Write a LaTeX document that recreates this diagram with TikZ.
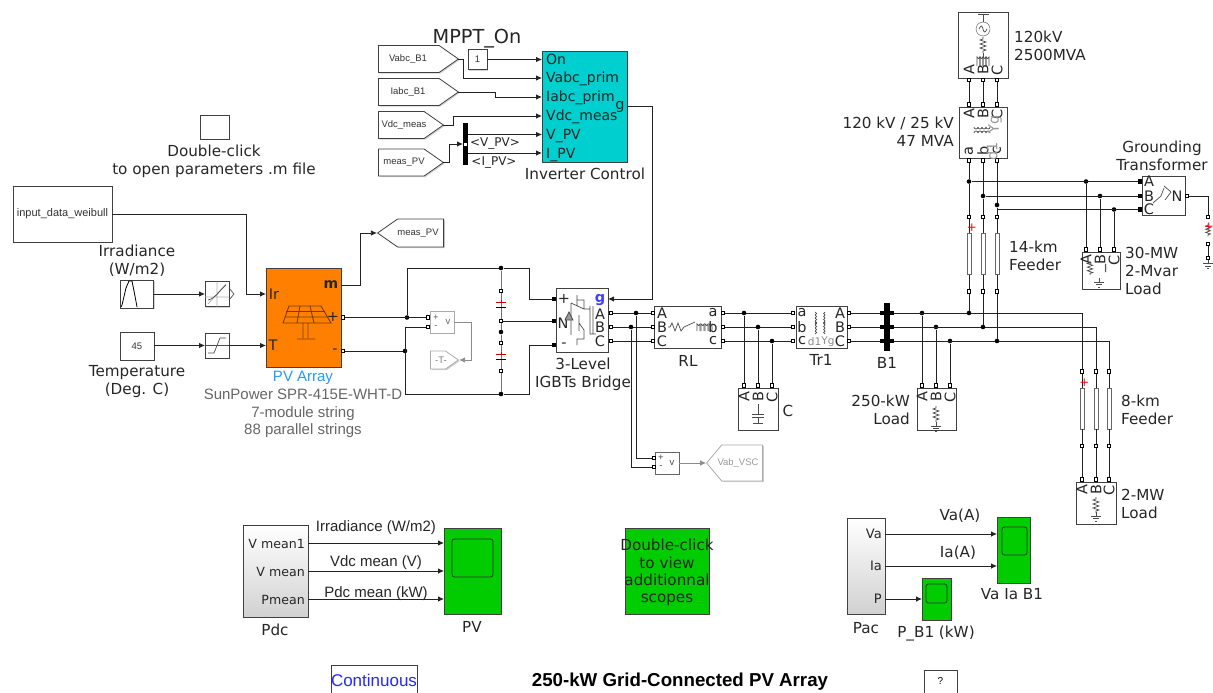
\documentclass[tikz,border=0pt]{standalone}
\usepackage{fontspec}
\setmainfont{DejaVu Sans}
\newfontfamily\arialfont{Liberation Sans}
\usetikzlibrary{positioning, arrows.meta, shadows, shapes.symbols}

\definecolor{scopegreen}{HTML}{00CC00}
\definecolor{ctrlteal}{HTML}{00CFCF}
\definecolor{pvorange}{HTML}{FF8000}
\definecolor{pvbrown}{HTML}{7A3C00}
\definecolor{pvblue}{HTML}{2299FF}
\definecolor{wirecol}{HTML}{222222}
\definecolor{paletxt}{HTML}{AAAAAA}

\tikzset{
  blk/.style={draw=black!75,fill=white,line width=0.8pt,inner sep=0,drop shadow={shadow xshift=1.2pt,shadow yshift=-1.2pt,opacity=0.35}},
  paleblk/.style={blk,draw=paletxt},
  gradblk/.style={blk,top color=white,bottom color=black!18},
  scopeblk/.style={blk,fill=scopegreen},
  screen/.style={draw=black!80,fill=scopegreen,rounded corners=2.5pt,line width=0.8pt,inner sep=0},
  portbox/.style={draw=black,fill=white,line width=0.9pt,inner sep=0,minimum size=3.6pt},
  dot/.style={circle,fill=black,inner sep=0,minimum size=4.6pt},
  wire/.style={draw=wirecol,line width=0.8pt},
  sig/.style={wire,-{Latex[length=6pt,width=5.5pt]}},
  palesig/.style={draw=black!45,line width=0.8pt,-{Latex[length=6pt,width=5.5pt]}},
  lbl/.style={font=\fontsize{15.2}{18}\selectfont,align=center,inner sep=0,text=black!85},
  lbll/.style={lbl,align=left,anchor=west},
  lblr/.style={lbl,align=right,anchor=east},
  plbl/.style={font=\fontsize{14.5}{16}\selectfont,inner sep=0,text=black!85},
  rlbl/.style={plbl,rotate=90},
  arial/.style={font=\arialfont\fontsize{15}{17.6}\selectfont,align=center,inner sep=0,text=black!60},
  tinylbl/.style={font=\arialfont\fontsize{9.5}{11}\selectfont,inner sep=0,text=black!80},
  goto/.style={signal,signal to=east,blk,signal pointer angle=#1},
  symb/.style={draw=black!70,line width=0.7pt},
  zigv/.pic={\draw[symb] (0,-8) -- (0,-6) -- (-3,-5) -- (3,-3) -- (-3,-1) -- (3,1) -- (-3,3) -- (3,5) -- (0,6) -- (0,8);},
  coilv/.pic={\foreach \c in {-4.5,-1.5,1.5,4.5} \draw[symb] (0,\c-1.5) arc (-90:90:1.5 and 1.5);},
  gnd/.pic={\draw[symb] (0,0) -- (0,4) (-5,4) -- (5,4) (-3,6.5) -- (3,6.5) (-1.2,9) -- (1.2,9);}
}

\begin{document}
\begin{tikzpicture}[x=1pt,y=-1pt]
\useasboundingbox (0,0) rectangle (1213,693);
\clip (0,0) rectangle (1213,693);

% parameters and solar inputs
\node[blk,minimum width=29pt,minimum height=24pt] (params) at (214.5,127) {};
\node[lbl] (paramstxt) at (214,161) {Double-click\\to open parameters .m file};
\node[blk,minimum width=99pt,minimum height=56pt] (weibull) at (62.5,214) {};
\node[tinylbl,font=\arialfont\fontsize{11}{12}\selectfont] (weibulltxt) at (weibull) {input\_data\_weibull};
\node[lbl] (irrtxt) at (137,261) {Irradiance\\(W/m2)};
\node[blk,minimum width=33pt,minimum height=28pt] (irrsig) at (137,294) {};
\draw[line width=0.8pt] (121,307) -- (122,305) -- (126,288) -- (129,281) -- (132,281) -- (135,296) -- (137,307);
\node[blk,minimum width=24pt,minimum height=25pt] (irrlut) at (217,294) {};
\draw[draw=black!30,line width=0.8pt] (217,281.5) -- (217,306.5) (205,297) -- (229,297) (208,304) -- (226,284);
\draw[symb] (208,300) .. controls (216,298) and (218,292) .. (226,285);
\draw[symb] (229,288) -- (234,294) -- (229,300);
\coordinate (irrlutR) at (205,294);
\node[blk,minimum width=34pt,minimum height=28pt] (temp) at (137,346) {};
\node[tinylbl] (temptxt) at (temp) {45};
\node[blk,minimum width=24pt,minimum height=25pt] (sat) at (217,345.5) {};
\draw[symb] (208,353) -- (214,353) -- (220,338) -- (226,338);
\draw[symb] (205,345.5) -- (229,345.5);
\node[lbl] (temptxt2) at (137,381.5) {Temperature\\(Deg. C)};
\coordinate (irrout) at (154,294);
\coordinate (tempout) at (154,345.5);
\coordinate (satin) at (205,345.5);
\coordinate (satout) at (229,345.5);
\coordinate (weibout) at (112,214);

% PV array
\node[blk,fill=pvorange,minimum width=75pt,minimum height=99pt] (pv) at (303.5,317.5) {};
\coordinate (pvIr) at (266,294);
\coordinate (pvT) at (266,345.5);
\coordinate (pvm) at (341,285);
\coordinate (wbend) at (246,214);
\coordinate (mbend) at (360,233);
\node[plbl] (pvIrtxt) at (274,294) {Ir};
\node[plbl] (pvTtxt) at (273,345) {T};
\node[plbl,font=\fontsize{14}{16}\bfseries\selectfont] (pvmtxt) at (331,285) {m};
\node[plbl] (pvptxt) at (333,317) {+};
\node[plbl] (pvmintxt) at (335,351) {-};
\draw[draw=pvbrown,line width=0.9pt] (289,306) -- (321,306) -- (331,323) -- (283,323) -- cycle (286,311.5) -- (325,311.5) (284.5,317) -- (328,317) (300,306) -- (297,323) (310,306) -- (314,323)
  (303,323) -- (303,338) (308,323) -- (308,338) (297,339) -- (315,339);
\node[portbox] (pvplus) at (343,317.5) {};
\node[portbox] (pvminus) at (343,351) {};
\node[font=\arialfont\fontsize{15}{16}\selectfont,inner sep=0,text=pvblue] (pvname) at (303,378) {PV Array};
\node[arial] (pvtype) at (303,413.5) {SunPower SPR-415E-WHT-D\\7-module string\\88 parallel strings};
\node[goto=70,signal to=west,minimum width=66pt,minimum height=28pt,anchor=east] (gmeas) at (444,233) {};
\node[tinylbl] (gmeastxt) at (418,233) {meas\_PV};

% control side
\node[lbl,font=\fontsize{19.3}{20}\selectfont] (mppttxt) at (477,38.5) {MPPT\_On};
\node[blk,fill=ctrlteal,minimum width=85pt,minimum height=111pt] (ctrl) at (584.5,106.5) {};
\foreach \n/\t/\y in {a/On/59.5,b/Vabc\_prim/78,c/Iabc\_prim/97,d/Vdc\_meas/116,e/V\_PV/134.5,f/I\_PV/153}
{
  \node[plbl,anchor=west,font=\fontsize{14}{16}\selectfont,text height=13pt,text depth=3pt] (ctrltxt\n) at (546,\y) {\t};
  \coordinate (ctrl\n) at (542,\y);
}
\node[plbl] (ctrlg) at (620,107) {g};
\coordinate (ctrlgout) at (627,106);
\node[lbl] (ctrlname) at (585,174) {Inverter Control};
\foreach \n/\t/\w/\y in {gvabc/Vabc\_B1/80/59,giabc/Iabc\_B1/80/92,gvdc/Vdc\_meas/65/125,gpv/meas\_PV/65/162.5}
{
  \node[goto=70,minimum width=\w pt,minimum height=27pt,anchor=west] (\n) at (378,\y) {};
}
\coordinate (vabctip) at (458,59);
\coordinate (iabctip) at (458,92);
\coordinate (vdctip) at (443,125);
\coordinate (pvtip) at (443,162.5);
\node[tinylbl] (gvabctxt) at (408,59) {Vabc\_B1};
\node[tinylbl] (giabctxt) at (408,92) {Iabc\_B1};
\node[tinylbl] (gvdctxt) at (404,125) {Vdc\_meas};
\node[tinylbl] (gpvtxt) at (404,162.5) {meas\_PV};
\node[blk,minimum width=19pt,minimum height=20pt] (mppt) at (477.5,59.5) {};
\node[tinylbl] (mppttxt2) at (mppt) {1};
\node[fill=black,inner sep=0,minimum width=5.5pt,minimum height=42pt] (bus) at (465.5,144) {};
\node[fill=white,inner sep=0,minimum width=3pt,minimum height=3pt] (buspt) at (465.5,144) {};
\coordinate (busin) at (463,144);
\coordinate (busv) at (468,134.5);
\coordinate (busi) at (468,153);
\node[plbl,font=\fontsize{12}{13}\selectfont] (vpvtxt) at (495,144) {<V\_PV>};
\node[plbl,font=\fontsize{12}{13}\selectfont] (ipvtxt) at (494,162.5) {<I\_PV>};
\draw[sig] (mppt) -- (ctrla);
\draw[sig] (vabctip) -- (463,59) -- (463,78) -- (ctrlb);
\draw[sig] (iabctip) -- (495,92) -- (495,97) -- (ctrlc);
\draw[sig] (vdctip) -- (453,125) -- (453,116) -- (ctrld);
\draw[sig] (pvtip) -- (449,162.5) -- (449,144) -- (busin);
\draw[sig] (busv) -- (ctrle);
\draw[sig] (busi) -- (ctrlf);

% solar wiring
\draw[sig] (weibout) -- (wbend) -- (246,294) -- (pvIr);
\draw[sig] (irrout) -- (irrlutR);
\draw[sig] (tempout) -- (satin);
\draw[sig] (satout) -- (pvT);
\draw[sig] (pvm) -- (360,285) -- (mbend) -- (gmeas.west);

% dc link
\node[paleblk,minimum width=24pt,minimum height=22pt] (vdc) at (442,322) {};
\node[portbox] (vdcp) at (428,317.5) {};
\node[portbox] (vdcm) at (428,327) {};
\node[tinylbl,text=black!60] (vdcptxt) at (436,317.5) {+};
\node[tinylbl,text=black!60] (vdcmtxt) at (436,327) {-};
\node[tinylbl,text=black!60] (vdcvtxt) at (448,322) {v};
\node[goto=70,draw=paletxt,minimum width=28pt,minimum height=18pt,anchor=west] (gtT) at (430,360) {};
\node[tinylbl,text=black!50] (gttxt) at (441,360) {-T-};
\node[dot] (dcp) at (407,317.5) {};
\node[dot] (dcm) at (405,351) {};
\node[dot] (captop) at (501,268) {};
\node[dot] (capmid) at (501,332) {};
\node[dot] (capbot) at (501,394) {};
\coordinate (brplusB) at (529,268);
\coordinate (brminusB) at (529,394);
\coordinate (dctop) at (407,268);
\coordinate (dcbot) at (405,394);
\coordinate (dcvm) at (405,327);
\coordinate (vdcout) at (454,322);
\node[blk,minimum width=52pt,minimum height=64pt] (brg) at (582,320) {};
\foreach \n/\y in {p/299,n/321,m/345} \node[portbox,fill=black] (brg\n) at (554,\y) {};
\node[portbox] (cap1) at (501,291) {};
\node[portbox] (cap2) at (501,321) {};
\node[portbox] (cap3) at (501,343) {};
\node[portbox] (cap4) at (501,371) {};
\draw[draw=black!55,line width=0.9pt] (captop) -- (cap1) -- (cap2) -- (capmid) -- (cap3) -- (cap4) -- (capbot);
\draw[draw=red!80!black,line width=0.9pt] (496,302) -- (506,302) (501,299.5) -- (501,302) (496,354) -- (506,354) (501,351.5) -- (501,354);
\draw[line width=0.9pt] (496,307) -- (506,307) (496,359) -- (506,359);
\draw[wire] (pvplus) -- (vdcp);
\draw[wire] (dcp) -- (dctop) -- (captop) -- (brplusB) -- (529,299) -- (brgp);
\draw[wire] (pvminus) -- (dcm);
\draw[wire] (vdcm) -- (dcvm) -- (dcbot) -- (capbot) -- (brminusB) -- (529,345) -- (brgm);
\draw[wire] (cap2) -- (brgn);
\draw[palesig] (vdcout) -- (471,322) -- (471,360) -- (gtT.east);

% bridge symbol
\node[plbl] (brgptxt) at (564,299) {+};
\node[plbl] (brgntxt) at (563,323) {N};
\node[plbl] (brgmtxt) at (564,345) {-};
\node[plbl,font=\fontsize{14.5}{16}\bfseries\selectfont,text=blue!75] (brggtxt) at (600,300) {g};
\foreach \p/\y in {A/314,B/327.5,C/341} \node[plbl] (brgtxt\p) at (600,\y) {\p};
\draw[symb] (577,295) -- (577,306) (577,300) -- (584,300) -- (584,309) (571,303) -- (584,309) (584,309) -- (590,309)
  (571,303) -- (571,335) (579,315) -- (579,331) (584,330) -- (584,339) -- (577,339) -- (577,345) (579,323) -- (584,330) (590,306) -- (590,334) -- (596,334) (593,306) -- (593,334);
\draw[symb,fill=black!40] (565,320) -- (573,320) -- (569,312) -- cycle;
\node[lbl] (brgname) at (583,374) {3-Level\\IGBTs Bridge};
\coordinate (brgg) at (608,299);
\coordinate (gbend) at (652,106);
\draw[sig] (ctrlgout) -- (gbend) -- (652,299) -- (brgg);

% ac chain
\node[blk,minimum width=67pt,minimum height=42pt] (rl) at (687.5,327) {};
\node[blk,minimum width=51pt,minimum height=42pt] (tr1) at (821.5,327) {};
\node[fill=black,inner sep=0,minimum width=6pt,minimum height=48pt] (b1) at (887,327) {};
\foreach \p/\q/\y in {A/a/313,B/b/327,C/c/341}
{
  \node[portbox] (brg\p) at (611,\y) {};
  \node[portbox] (rlin\p) at (653,\y) {};
  \node[portbox] (rlout\p) at (723,\y) {};
  \node[portbox] (trin\p) at (793,\y) {};
  \node[portbox] (trout\p) at (849,\y) {};
  \node[portbox,fill=black] (bl\p) at (882,\y) {};
  \node[portbox,fill=black] (br\p) at (892,\y) {};
  \node[plbl] (rlt\p) at (662,\y) {\p};
  \node[plbl] (rlq\p) at (713,\y) {\q};
  \node[plbl] (trt\p) at (802,\y) {\q};
  \node[plbl] (trq\p) at (840,\y) {\p};
  \draw[wire] (brg\p) -- (rlin\p);
  \draw[wire] (rlout\p) -- (trin\p);
  \draw[wire] (trout\p) -- (bl\p);
}
\draw[symb] (668,327) -- (670,327) -- (672,323) -- (675,331) -- (678,323) -- (681,331) -- (684,327) -- (695,322);
\foreach \c in {697,701,705,709} \draw[symb] (\c,331) -- (\c,324) arc (180:0:1.5) -- ++(0,7);
\pic at (815,328) {coilv};
\pic at (815,318) {coilv};
\pic[xscale=-1] at (825,328) {coilv};
\pic[xscale=-1] at (825,318) {coilv};
\node[plbl,font=\fontsize{10.5}{12}\selectfont,text=black!45] (trd) at (814.5,342) {d1};
\node[plbl,font=\fontsize{10.5}{12}\selectfont,text=black!45] (trYg) at (828,342) {Yg};
\node[lbl] (rlname) at (688,361) {RL};
\node[lbl] (trname) at (821,360) {Tr1};
\node[lbl] (b1name) at (887,363) {B1};
\node[dot] (jvA) at (636,313) {};
\node[dot] (jvB) at (631,327) {};
\node[paleblk,draw=black!60,minimum width=24pt,minimum height=22pt] (vab) at (667,463) {};
\node[portbox] (vabp) at (654,458) {};
\node[portbox] (vabm) at (654,467) {};
\node[tinylbl,text=black!70] (vabptxt) at (661,458) {+};
\node[tinylbl,text=black!70] (vabmtxt) at (661,467) {-};
\node[tinylbl,text=black!70] (vabvtxt) at (672,463) {v};
\coordinate (vabB) at (636,458);
\coordinate (vabC) at (631,467);
\draw[wire] (jvA) -- (vabB) -- (vabp);
\draw[wire] (jvB) -- (vabC) -- (vabm);
\node[goto=100,draw=paletxt,signal to=west,minimum width=56pt,minimum height=36pt,anchor=east] (gvab) at (763,463) {};
\node[tinylbl,text=black!40] (gvabtxt) at (738,463) {Vab\_VSC};
\coordinate (vabout) at (679,463);
\draw[palesig] (vabout) -- (gvab.west);

% shunt blocks under the bus
\node[blk,minimum width=40pt,minimum height=42pt] (cblk) at (758,409) {};
\node[blk,minimum width=39pt,minimum height=42pt] (l250) at (936.5,409) {};
\foreach \p/\y/\xc/\xl in {A/313/744/922,B/327/758/936,C/341/772/950}
{
  \node[dot] (jc\p) at (\xc,\y) {};
  \node[portbox] (cp\p) at (\xc,385.5) {};
  \node[rlbl] (ct\p) at (\xc,397) {\p};
  \draw[wire] (jc\p) -- (cp\p);
  \node[dot] (jl\p) at (\xl,\y) {};
  \node[portbox] (lp\p) at (\xl,385.5) {};
  \node[rlbl] (lt\p) at (\xl,397) {\p};
  \draw[wire] (jl\p) -- (lp\p);
}
\draw[symb] (758,404) -- (758,414) (752,414) -- (764,414) (752,417) -- (764,417) (758,417) -- (758,423) (753,423) -- (763,423);
\node[lbl] (cname) at (788,411) {C};
\pic at (936,414) {zigv};
\pic at (936,422) {gnd};
\node[lblr] (l250name) at (910,410) {250-kW\\Load};

% 8-km feeder
\node[blk,minimum width=40pt,minimum height=42pt] (l2) at (1096,503) {};
\foreach \p/\x/\y in {A/1082/313,B/1096/327,C/1109/341}
{
  \node[portbox] (f8a\p) at (\x,371.5) {};
  \node[portbox] (f8b\p) at (\x,446) {};
  \node[portbox] (l2p\p) at (\x,479.5) {};
  \node[draw=black!60,fill=white,inner sep=0,minimum width=3.6pt,minimum height=41pt] (f8\p) at (\x,408.5) {};
  \node[rlbl] (l2t\p) at (\x,490) {\p};
  \coordinate (f8c\p) at (\x,\y);
  \draw[wire] (br\p) -- (f8c\p) -- (f8a\p);
  \draw[wire] (f8a\p) -- (f8\p) -- (f8b\p) -- (l2p\p);
}
\pic at (1096,505) {zigv};
\pic at (1096,512) {gnd};
\node[text=red,inner sep=0,font=\fontsize{12}{12}\selectfont] (f8plus) at (1084.5,383) {+};
\node[lbll] (f8name) at (1121,410) {8-km\\Feeder};
\node[lbll] (l2name) at (1121,504) {2-MW\\Load};

% grid side
\node[blk,minimum width=50pt,minimum height=66pt] (src) at (983,45) {};
\node[blk,minimum width=48pt,minimum height=51pt] (xf) at (983,132.5) {};
\foreach \p/\q/\x/\yj in {A/a/969/181.5,B/b/983/196,C/c/997/205}
{
  \node[portbox] (srcp\p) at (\x,80) {};
  \node[portbox] (xfu\p) at (\x,104.5) {};
  \node[portbox] (xfl\p) at (\x,160.5) {};
  \node[portbox] (f14a\p) at (\x,217) {};
  \node[portbox] (f14b\p) at (\x,291.5) {};
  \node[draw=black!60,fill=white,inner sep=0,minimum width=3.6pt,minimum height=41pt] (f14\p) at (\x,254) {};
  \node[rlbl] (srct\p) at (\x,70) {\p};
  \node[rlbl] (xft\p) at (\x,114) {\p};
  \node[rlbl] (xfq\p) at (\x,151) {\q};
  \node[dot] (jg\p) at (\x,\yj) {};
  \draw[wire] (srcp\p) -- (xfu\p);
  \draw[wire] (xfl\p) -- (jg\p) -- (f14a\p);
  \draw[wire] (f14a\p) -- (f14\p) -- (f14b\p);
}
\foreach \p/\x/\y in {A/969/313,B/983/327,C/997/341}
{
  \node[dot] (jf\p) at (\x,\y) {};
  \draw[wire] (f14b\p) -- (jf\p);
}
\node[text=red,inner sep=0,font=\fontsize{12}{12}\selectfont] (f14plus) at (972,228) {+};
\draw[symb] (983,14) -- (983,22) (978,14.5) -- (989,14.5);
\node[draw=black!70,circle,inner sep=0,minimum size=14pt] (srccirc) at (983,29) {};
\draw[symb] (979,29) .. controls (981,25) and (982,25) .. (983,29) .. controls (984,33) and (985,33) .. (987,29);
\pic at (983,45) {zigv};
\foreach \c in {977,980,983,986} \draw[symb] (\c,66) -- (\c,57) arc (180:0:1.5) -- ++(0,9);
\draw[symb] (983,53) -- (983,57);
\foreach \c in {974,978,982,986}
{
  \draw[symb] (\c,127) arc (180:0:2);
  \draw[symb] (\c,133) arc (180:360:2);
}
\node[rlbl,text=black!40] (xfYg) at (995,124) {Yg};
\node[rlbl,text=black!40] (xfd) at (992,151) {d1};
\node[lbll] (srcname) at (1014,46) {120kV\\2500MVA};
\node[lblr] (xfname) at (954,132) {120 kV / 25 kV\\47 MVA};
\node[lbll] (f14name) at (1009,255.5) {14-km\\Feeder};

% grounding transformer and load
\node[blk,minimum width=43pt,minimum height=39pt] (gt) at (1163.5,195.5) {};
\node[blk,minimum width=38pt,minimum height=37pt] (l30) at (1101,270.5) {};
\foreach \p/\y/\xj in {A/181.5/1086,B/196/1100,C/209.5/1114}
{
  \node[portbox,fill=black] (gtp\p) at (1140,\y) {};
  \node[plbl] (gtt\p) at (1149,\y) {\p};
  \node[dot] (jl30\p) at (\xj,\y) {};
  \node[portbox] (l30p\p) at (\xj,249.5) {};
  \node[rlbl] (l30t\p) at (\xj,260) {\p};
  \draw[wire] (jl30\p) -- (l30p\p);
}
\coordinate (gtcstart) at (997,209.5);
\draw[wire] (jgA) -- (gtpA);
\draw[wire] (jgB) -- (gtpB);
\draw[wire] (gtcstart) -- (gtpC);
\node[plbl] (gtN) at (1177,196) {N};
\draw[symb] (1153,203) -- (1161,196) -- (1164,188) (1164,186) -- (1171,192) -- (1165,200);
\node[portbox] (gtnp) at (1187,196) {};
\node[portbox] (gr1) at (1208,217) {};
\node[portbox] (gr2) at (1208,244) {};
\node[portbox] (gr3) at (1208,258) {};
\coordinate (grbend) at (1208,196);
\draw[wire] (gtnp) -- (grbend) -- (gr1);
\draw[wire] (gr2) -- (gr3);
\pic[scale=0.8] at (1208,230) {zigv};
\pic at (1208,259.5) {gnd};
\node[text=red,inner sep=0,font=\fontsize{12}{12}\selectfont] (grplus) at (1209,227) {+};
\node[lbl] (gtname) at (1162,156) {Grounding\\Transformer};
\node[lbll] (l30name) at (1125,271) {30-MW\\2-Mvar\\Load};
\pic[scale=0.9] at (1090,268) {zigv};
\pic[scale=0.7] at (1105,268) {coilv};
\pic at (1099,278) {gnd};

% lower scopes
\node[gradblk,minimum width=65pt,minimum height=92pt] (pdc) at (275.5,571) {};
\node[scopeblk,minimum width=57pt,minimum height=86pt] (pvsc) at (472.5,571) {};
\node[screen,minimum width=41pt,minimum height=38pt] (pvscr) at (472.5,558) {};
\foreach \n/\t/\y/\ya in {a/V mean1/544/543,b/V mean/572/571,c/Pmean/600/599}
{
  \node[plbl,anchor=east,font=\fontsize{12.6}{15}\selectfont] (pdctxt\n) at (305,\y) {\t};
  \coordinate (pdcout\n) at (308,\ya);
  \coordinate (pvin\n) at (444,\ya);
  \draw[sig] (pdcout\n) -- (pvin\n);
}
\node[arial,text=black!85] (sigtxta) at (376,527.5) {Irradiance (W/m2)};
\node[arial,text=black!85] (sigtxtb) at (376,562.5) {Vdc mean (V)};
\node[arial,text=black!85] (sigtxtc) at (376,593.5) {Pdc mean (kW)};
\node[lbl] (pdcname) at (275,630) {Pdc};
\node[lbl] (pvscname) at (472,627) {PV};
\node[scopeblk,minimum width=84pt,minimum height=86pt] (more) at (667,571) {};
\node[lbl,font=\fontsize{15.2}{17.2}\selectfont] (moretxt) at (667,572.5) {Double-click\\to view\\additionnal\\scopes};
\node[gradblk,minimum width=38pt,minimum height=96pt] (pac) at (866,566) {};
\foreach \n/\t/\y in {a/Va/534,b/Ia/566,c/P/599}
{
  \node[plbl,anchor=east,font=\fontsize{13}{15}\selectfont] (pactxt\n) at (882,\y) {\t};
  \coordinate (pacout\n) at (885,\y);
}
\node[scopeblk,minimum width=33pt,minimum height=66pt] (vasc) at (1013.5,550) {};
\node[screen,minimum width=25pt,minimum height=28pt] (vascr) at (1014.5,541) {};
\node[scopeblk,minimum width=29pt,minimum height=42pt] (psc) at (936.5,599) {};
\node[screen,minimum width=21pt,minimum height=19pt] (pscr) at (936.5,593.5) {};
\coordinate (vascA) at (997,534);
\coordinate (vascB) at (997,566);
\coordinate (pscA) at (922,599);
\draw[sig] (pacouta) -- (vascA);
\draw[sig] (pacoutb) -- (vascB);
\draw[sig] (pacoutc) -- (pscA);
\node[lbl] (vatxt) at (960,516) {Va(A)};
\node[lbl] (iatxt) at (958,553) {Ia(A)};
\node[lbl] (pacname) at (866,628) {Pac};
\node[lbl] (vascname) at (1012,594) {Va Ia B1};
\node[lbl] (pscname) at (936,634) {P\_B1 (kW)};

% footer
\node[blk,minimum width=86pt,minimum height=30pt,text=blue!85,font=\arialfont\fontsize{17}{18}\selectfont] (cont) at (374,680) {Continuous};
\node[font=\arialfont\bfseries\fontsize{18.7}{20}\selectfont,inner sep=0] (title) at (680,682) {250-kW Grid-Connected PV Array};
\node[blk,minimum width=33pt,minimum height=23pt,font=\arialfont\fontsize{10}{12}\selectfont] (help) at (940.5,681.5) {?};
\end{tikzpicture}
\end{document}
